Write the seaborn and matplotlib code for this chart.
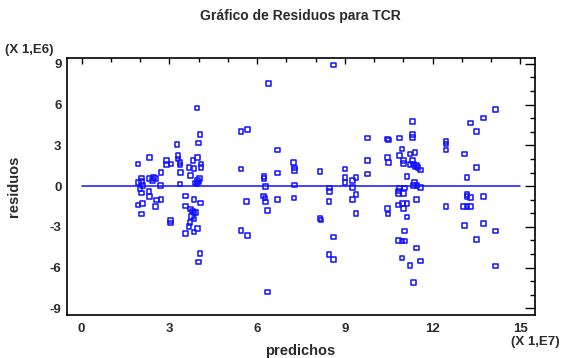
import matplotlib
matplotlib.use("Agg")
import matplotlib.pyplot as plt
import numpy as np
import pandas as pd
import seaborn as sns
from matplotlib.ticker import MultipleLocator

sns.set_theme(style="white")
plt.rcParams["font.family"] = ["Liberation Sans", "DejaVu Sans"]
plt.rcParams["axes.unicode_minus"] = False

TITLE = "Gráfico de Residuos para TCR"
X_LABEL = "predichos"
Y_LABEL = "residuos"
X_SCALE = "(X 1,E7)"
Y_SCALE = "(X 1,E6)"

# predicted values (x 1E7) and residuals (x 1E6)
predichos = [
    1.93, 1.94, 1.93, 2.08, 2.05, 2.05, 2.05, 2.08, 2.00, 2.05,
    2.33, 2.33, 2.43, 2.53, 2.45, 2.30, 2.33, 2.56, 2.72, 2.53, 2.72, 2.70,
    2.90, 2.90, 3.05, 3.04, 3.04, 3.26, 3.29, 3.30, 3.37, 3.36, 3.38, 3.36,
    3.56, 3.56, 3.55, 3.67, 3.73, 3.73, 3.81, 3.84, 3.84, 3.84, 3.90, 3.80,
    3.76, 3.84, 3.70, 3.67, 3.96, 3.84, 3.96, 4.08, 4.08, 3.87, 3.97, 4.04,
    3.94, 4.00, 4.07, 3.95, 4.05, 4.00, 4.05, 4.00,
    5.45, 5.67, 5.45, 5.64, 5.45, 5.67,
    6.38, 6.23, 6.23, 6.29, 6.21, 6.27, 6.29, 6.36, 6.36,
    6.70, 6.70, 6.70,
    7.25, 7.27, 7.27, 7.27, 7.26,
    8.15, 8.15, 8.18,
    8.47, 8.47, 8.46, 8.46, 8.61, 8.61, 8.61,
    9.00, 9.00, 9.00, 9.27, 9.38, 9.27, 9.38, 9.27, 9.38,
    9.78, 9.78, 9.78,
    10.46, 10.50, 10.46, 10.49, 10.46, 10.47,
    10.86, 10.95, 10.86, 11.00, 11.00, 11.12, 10.87, 11.04, 10.83, 10.83,
    11.00, 10.83, 10.97, 11.12, 11.00, 11.12, 11.03, 10.83, 10.95, 11.06, 10.95,
    11.32, 11.32, 11.32, 11.23, 11.40, 11.32, 11.35, 11.23, 11.40, 11.50,
    11.45, 11.58, 11.38, 11.46, 11.35, 11.58, 11.44, 11.44, 11.23, 11.58, 11.35,
    12.45, 12.45, 12.45, 12.45,
    14.14, 13.74, 13.29, 13.49, 13.08, 13.49, 13.17, 13.17, 13.17, 13.29,
    13.74, 13.06, 13.17, 13.29, 13.08, 13.74, 14.14, 13.49, 14.14,
]
residuos = [
    1.63, 0.25, -1.39, -1.29, -2.07, 0.60, 0.35, 0.02, -0.20, -0.50,
    2.12, 0.54, 0.39, 0.54, 0.62, -0.42, -0.77, -1.04, -1.01, -1.51, 1.00, 0.02,
    1.87, 1.58, 1.63, -2.55, -2.72, 3.06, 2.24, 2.00, 1.73, 1.56, 1.00, 0.15,
    -0.72, -1.46, -3.48, 1.38, 0.76, -1.70, 1.87, 1.30, -1.01, -1.96, -1.96, -1.83,
    -2.25, -2.44, -2.70, -2.99, -3.14, -3.39, 2.12, 1.63, 1.38, 0.24, 0.39, 0.54,
    0.17, 0.30, -1.26, 5.75, 3.78, 3.16, -4.96, -5.60,
    4.02, 4.15, 1.26, -1.14, -3.26, -3.63,
    7.55, 0.56, 0.70, -0.05, -0.72, -0.89, -1.16, -1.78, -7.80,
    2.67, 0.96, -1.01,
    1.75, 1.33, 1.13, 0.07, -0.89,
    1.08, -2.40, -2.50,
    -0.15, -0.40, -1.14, -5.04, -5.41, -3.76, 8.91,
    1.26, 0.64, 0.27, 0.39, 0.64, -0.10, -0.64, -1.01, -2.00,
    3.53, 1.87, 0.89,
    3.48, 3.40, 2.12, 1.75, -1.66, -2.07,
    3.53, 2.74, 2.24, 1.87, 1.67, 0.71, -0.15, -0.15, -0.35, -0.55,
    -0.55, -1.39, -1.29, -1.29, -1.66, -2.27, -3.31, -4.00, -4.05, -4.05, -5.29,
    4.76, 3.78, 3.60, 2.37, 2.49, 1.87, 1.63, 1.60, 1.40, 1.35,
    1.50, 1.18, 0.27, 0.02, 0.02, -0.10, -1.01, -4.55, -5.85, -5.53, -7.09,
    3.28, 3.10, 2.67, -1.51,
    5.65, 5.01, 4.64, 4.02, 2.37, 1.38, 0.64, -0.64, -0.77, -0.84,
    -0.77, -1.51, -1.51, -1.51, -2.89, -2.77, -3.31, -3.93, -5.90,
]
zero_line_x = [0, 15]

df = pd.DataFrame({"predichos": predichos, "residuos": residuos})

BLUE = "#1010ff"
TEXT = "#2a2a2a"

fig = plt.figure(figsize=(5.61, 3.58), dpi=100)
ax = fig.add_axes([0.1194, 0.1201, 0.8343, 0.7165])

ax.plot(zero_line_x, [0, 0], color=BLUE, linewidth=1.1, zorder=2)
sns.scatterplot(
    data=df,
    x="predichos",
    y="residuos",
    marker="s",
    s=11,
    facecolor="none",
    edgecolor=BLUE,
    linewidth=1.1,
    ax=ax,
    zorder=3,
)

ax.set_xlim(-0.5, 15.5)
ax.set_ylim(-9.5, 9.4)
ax.xaxis.set_major_locator(MultipleLocator(3))
ax.xaxis.set_minor_locator(MultipleLocator(1))
ax.yaxis.set_major_locator(MultipleLocator(3))
ax.yaxis.set_minor_locator(MultipleLocator(1))
ax.tick_params(axis="both", which="both", direction="in", top=True, right=True,
               colors="black", labelcolor=TEXT, labelsize=9.5, width=1.0)
ax.tick_params(axis="y", which="major", length=7, pad=4)
ax.tick_params(axis="y", which="minor", length=3.6)
ax.tick_params(axis="x", which="major", length=4.3, pad=5.5)
ax.tick_params(axis="x", which="minor", length=2.9)
for lab in ax.get_xticklabels() + ax.get_yticklabels():
    lab.set_fontweight("bold")
for sp in ax.spines.values():
    sp.set_color("black")
    sp.set_linewidth(1.2)
ax.set_xlabel("")
ax.set_ylabel("")

fig.text(300 / 561, 1 - 16 / 358, TITLE, ha="center", va="center", fontsize=10, fontweight="bold", color=TEXT)
fig.text(300 / 561, 1 - 351 / 358, X_LABEL, ha="center", va="center", fontsize=10.5, fontweight="bold", color=TEXT)
fig.text(14 / 561, 1 - 186 / 358, Y_LABEL, ha="center", va="center", rotation=90, fontsize=10.5,
         fontweight="bold", color=TEXT)
fig.text(5 / 561, 1 - 50 / 358, Y_SCALE, ha="left", va="center", fontsize=9.5, fontweight="bold", color=TEXT)
fig.text(560 / 561, 1 - 342 / 358, X_SCALE, ha="right", va="center", fontsize=9.5, fontweight="bold", color=TEXT)

fig.savefig("out.png", dpi=100, facecolor="white")
